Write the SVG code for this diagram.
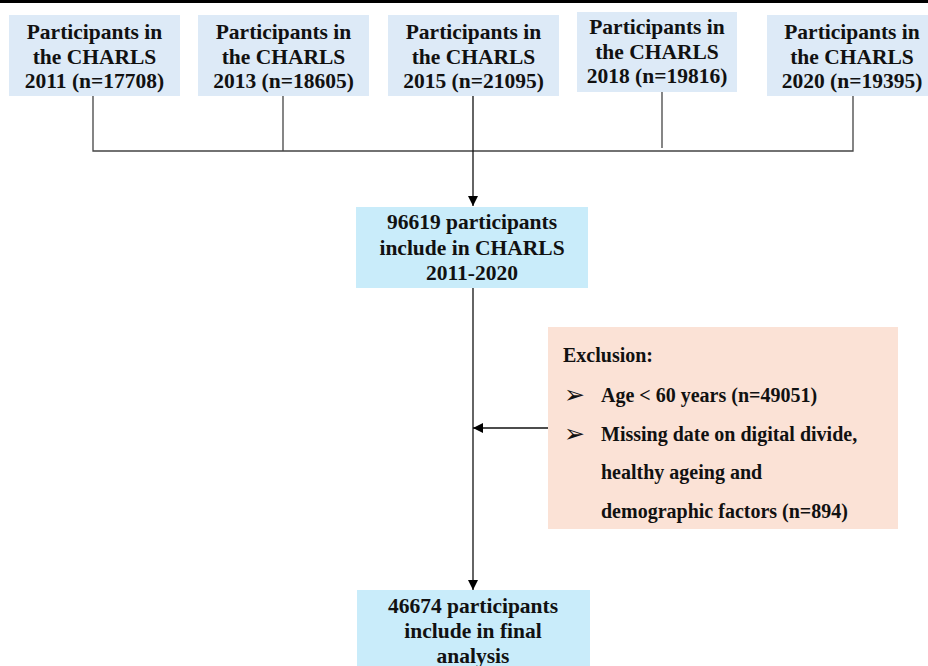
<svg xmlns="http://www.w3.org/2000/svg" width="928" height="666" viewBox="0 0 928 666">
<defs>
<marker id="arr" viewBox="0 0 10 10" refX="10" refY="5" markerWidth="10" markerHeight="10" markerUnits="userSpaceOnUse" orient="auto">
<path d="M0,0 L10,5 L0,10 z" fill="#000"/>
</marker>
</defs>
<style>
text{font-family:"Liberation Serif","Times New Roman",serif;font-weight:bold;fill:#111;}
.t{font-size:21.5px;text-anchor:middle;}
.e{font-size:20px;}
.b{font-family:"DejaVu Sans",sans-serif;font-size:25px;font-weight:normal;}
.top{fill:#DDEAF7;}
.mid{fill:#C9ECFA;}
.exc{fill:#FBE2D6;}
.ln{stroke:#444;stroke-width:1.3;fill:none;}
.ar{stroke:#111;stroke-width:1.3;fill:none;}
</style>
<rect width="928" height="666" fill="#fff"/>
<line x1="0" y1="1.5" x2="928" y2="1.5" stroke="#000" stroke-width="3"/>
<g id="connectors">
<polyline class="ln" points="93,96 93,151 853,151 853,96"/>
<line class="ln" x1="283" y1="96" x2="283" y2="151"/>
<line class="ln" x1="662" y1="92" x2="662" y2="148"/>
<line class="ar" x1="473" y1="96" x2="473" y2="206" marker-end="url(#arr)"/>
<line class="ar" x1="473" y1="288" x2="473" y2="590" marker-end="url(#arr)"/>
<line class="ar" x1="548" y1="428" x2="473" y2="428" marker-end="url(#arr)"/>
</g>
<g id="n2011">
<rect class="top" x="9" y="15" width="171" height="81"/>
<text class="t" x="94.5" y="39">Participants in</text>
<text class="t" x="94.5" y="64">the CHARLS</text>
<text class="t" x="94.5" y="88">2011 (n=17708)</text>
</g>
<g id="n2013">
<rect class="top" x="198" y="15" width="171" height="81"/>
<text class="t" x="283.5" y="39">Participants in</text>
<text class="t" x="283.5" y="64">the CHARLS</text>
<text class="t" x="283.5" y="88">2013 (n=18605)</text>
</g>
<g id="n2015">
<rect class="top" x="388" y="15" width="171" height="81"/>
<text class="t" x="473.5" y="39">Participants in</text>
<text class="t" x="473.5" y="64">the CHARLS</text>
<text class="t" x="473.5" y="88">2015 (n=21095)</text>
</g>
<g id="n2018">
<rect class="top" x="577" y="12" width="160" height="80"/>
<text class="t" x="657" y="34">Participants in</text>
<text class="t" x="657" y="59">the CHARLS</text>
<text class="t" x="657" y="83">2018 (n=19816)</text>
</g>
<g id="n2020">
<rect class="top" x="767" y="15" width="170" height="81"/>
<text class="t" x="852" y="39">Participants in</text>
<text class="t" x="852" y="64">the CHARLS</text>
<text class="t" x="852" y="88">2020 (n=19395)</text>
</g>
<g id="total">
<rect class="mid" x="356" y="207" width="232" height="81"/>
<text class="t" x="472" y="229">96619 participants</text>
<text class="t" x="472" y="255">include in CHARLS</text>
<text class="t" x="472" y="280">2011-2020</text>
</g>
<g id="exclusion">
<rect class="exc" x="548" y="327" width="350" height="202"/>
<text class="e" x="563" y="362">Exclusion:</text>
<text class="b" x="564" y="403">➢</text>
<text class="e" x="601" y="402">Age &lt; 60 years (n=49051)</text>
<text class="b" x="564" y="442">➢</text>
<text class="e" x="601" y="441">Missing date on digital divide,</text>
<text class="e" x="601" y="479">healthy ageing and</text>
<text class="e" x="601" y="518">demographic factors (n=894)</text>
</g>
<g id="final">
<rect class="mid" x="357" y="590" width="233" height="80"/>
<text class="t" x="473" y="613">46674 participants</text>
<text class="t" x="473" y="638">include in final</text>
<text class="t" x="473" y="663">analysis</text>
</g>
</svg>
